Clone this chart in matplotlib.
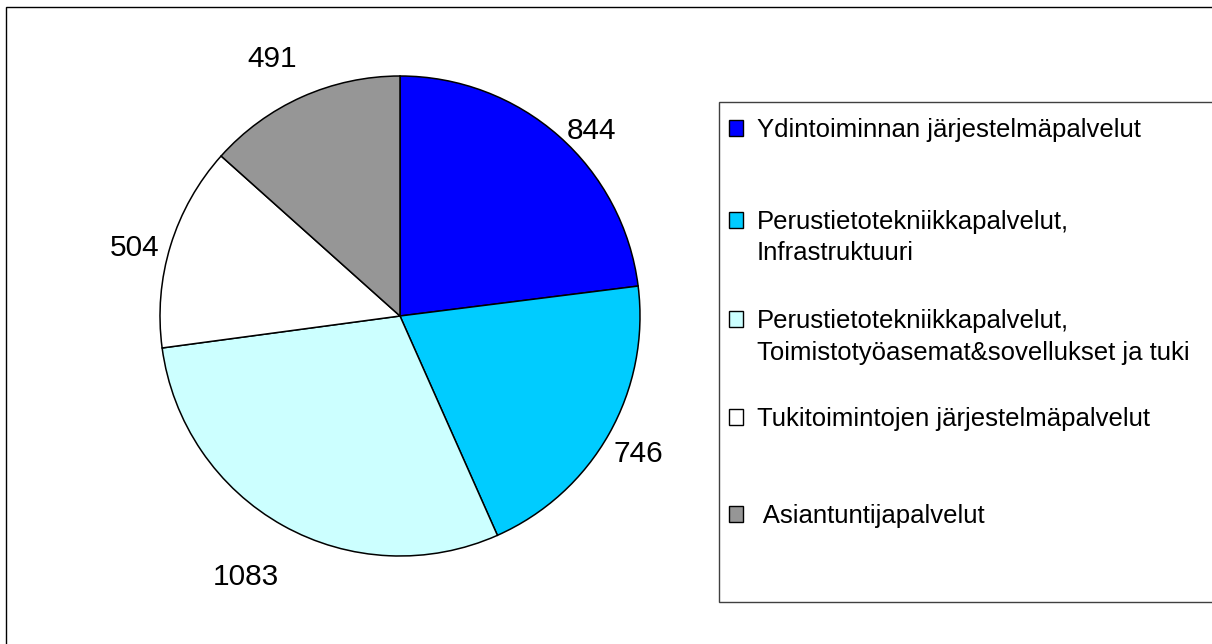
import matplotlib
matplotlib.use("Agg")
import numpy as np
import matplotlib.pyplot as plt
from matplotlib.patches import Rectangle

plt.rcParams['font.family'] = ['Liberation Sans', 'DejaVu Sans']

categories = [
    "Ydintoiminnan järjestelmäpalvelut",
    "Perustietotekniikkapalvelut,\nInfrastruktuuri",
    "Perustietotekniikkapalvelut,\nToimistotyöasemat&sovellukset ja tuki",
    "Tukitoimintojen järjestelmäpalvelut",
    " Asiantuntijapalvelut",
]
values = [844, 746, 1083, 504, 491]
colors = ["#0000FF", "#00CCFF", "#CCFFFF", "#FFFFFF", "#969696"]

W, H = 1212, 644
fig = plt.figure(figsize=(W / 100, H / 100), dpi=100)

# outer frame (left/top visible, right/bottom run off the canvas)
fig.patches.append(Rectangle((6 / W, -0.05), 1.2, 1 - 7 / H + 0.05,
                             transform=fig.transFigure, fill=False,
                             edgecolor="black", linewidth=1.0))

# pie axes: centre (400,316) px, radius 238 px
cx, cy, R = 400, 316, 238
half = 300
ax = fig.add_axes([(cx - half) / W, (H - cy - half) / H, 2 * half / W, 2 * half / H])
lim = half / R
ax.set_xlim(-lim, lim)
ax.set_ylim(-lim, lim)
ax.set_aspect("equal")
ax.axis("off")

wedges, texts = ax.pie(values, colors=colors, startangle=90, counterclock=False,
                       labels=[str(v) for v in values], labeldistance=1.15,
                       wedgeprops=dict(edgecolor="black", linewidth=1.1),
                       textprops=dict(fontsize=21.5, ha="center", va="center"))
# label placement tweaks (angle offset in degrees, radial distance)
label_shift = [(-3.9, 1.12), (0.0, 1.14), (-1.7, 1.25), (1.9, 1.146), (2.0, 1.21)]
for t, w, (da, d) in zip(texts, wedges, label_shift):
    mid = np.deg2rad((w.theta1 + w.theta2) / 2 + da)
    t.set_position((d * np.cos(mid), d * np.sin(mid) - 0.015))

# legend box
fig.patches.append(Rectangle((719 / W, 1 - 602 / H), 1.0, (602 - 102) / H,
                             transform=fig.transFigure, fill=True, facecolor="white",
                             edgecolor="#404040", linewidth=1.0, zorder=0))
line_y = [[128], [220, 251], [319, 351], [417], [514]]
for lab, col, ys in zip(categories, colors, line_y):
    lines = lab.split("\n")
    y0 = ys[0]
    fig.patches.append(Rectangle((729 / W, 1 - (y0 + 8) / H), 14 / W, 16 / H,
                                 transform=fig.transFigure, facecolor=col,
                                 edgecolor="black", linewidth=1.0))
    for ln, yy in zip(lines, ys):
        fig.text(757 / W, 1 - (yy + 2) / H, ln, fontsize=18.5, ha="left", va="center")

fig.savefig("out.png", dpi=100)
